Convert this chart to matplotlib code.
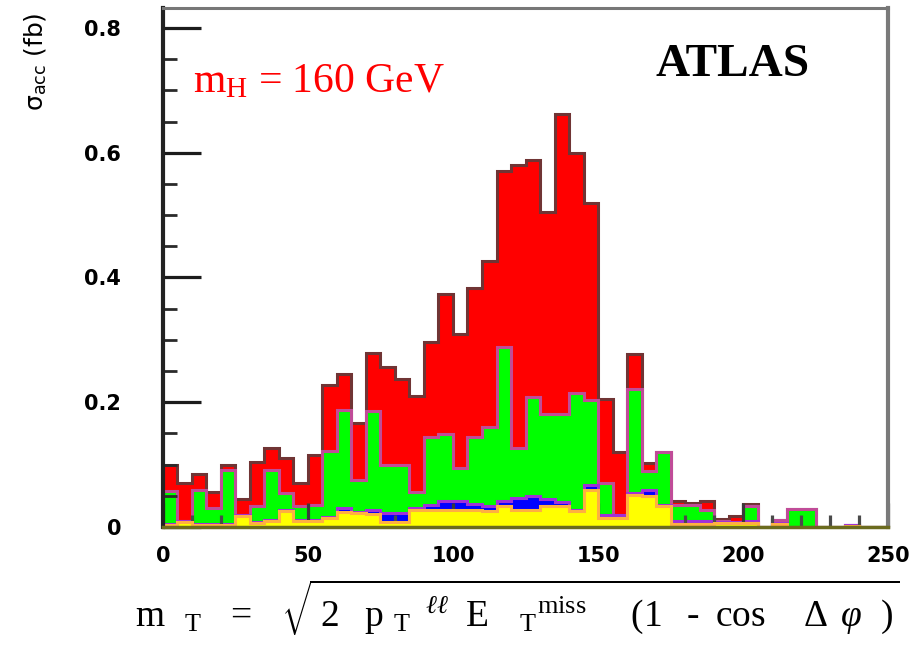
import numpy as np
import matplotlib

matplotlib.use("Agg")
import matplotlib.pyplot as plt
from matplotlib.font_manager import FontProperties
from matplotlib.ticker import MultipleLocator

plt.rcParams["mathtext.fontset"] = "custom"
plt.rcParams["mathtext.rm"] = "Liberation Serif"
plt.rcParams["mathtext.it"] = "Liberation Serif:italic"
plt.rcParams["mathtext.bf"] = "Liberation Serif:bold"

# 5 GeV bins from 0 to 250 GeV
bin_edges = np.arange(0, 255, 5)

# stacked levels (fb), top of each layer
top_total = [0.100, 0.070, 0.085, 0.056, 0.100, 0.045, 0.105, 0.126, 0.110, 0.071,
             0.115, 0.228, 0.246, 0.166, 0.279, 0.257, 0.238, 0.210, 0.297, 0.373,
             0.309, 0.383, 0.427, 0.570, 0.580, 0.588, 0.505, 0.662, 0.599, 0.519,
             0.206, 0.121, 0.277, 0.102, 0.121, 0.041, 0.038, 0.041, 0.013, 0.018,
             0.037, 0.000, 0.012, 0.029, 0.029, 0.000, 0.000, 0.004, 0.000, 0.000]
top_green = [0.058, 0.010, 0.060, 0.031, 0.091, 0.019, 0.033, 0.092, 0.054, 0.033,
             0.035, 0.122, 0.188, 0.075, 0.186, 0.099, 0.099, 0.056, 0.145, 0.149,
             0.094, 0.145, 0.161, 0.289, 0.126, 0.209, 0.181, 0.181, 0.215, 0.204,
             0.070, 0.019, 0.222, 0.089, 0.121, 0.036, 0.036, 0.027, 0.010, 0.008,
             0.033, 0.000, 0.012, 0.029, 0.029, 0.000, 0.000, 0.003, 0.000, 0.000]
top_blue = [0.005, 0.010, 0.005, 0.005, 0.005, 0.019, 0.008, 0.011, 0.028, 0.011,
            0.011, 0.016, 0.030, 0.024, 0.028, 0.022, 0.022, 0.030, 0.036, 0.041,
            0.041, 0.037, 0.033, 0.041, 0.046, 0.049, 0.045, 0.040, 0.028, 0.067,
            0.020, 0.019, 0.055, 0.059, 0.036, 0.010, 0.010, 0.009, 0.008, 0.008,
            0.010, 0.000, 0.007, 0.000, 0.000, 0.000, 0.000, 0.003, 0.000, 0.000]
top_yellow = [0.003, 0.008, 0.003, 0.003, 0.003, 0.017, 0.006, 0.009, 0.026, 0.009,
              0.009, 0.014, 0.024, 0.022, 0.021, 0.008, 0.008, 0.028, 0.028, 0.028,
              0.028, 0.028, 0.025, 0.033, 0.028, 0.028, 0.033, 0.033, 0.025, 0.059,
              0.014, 0.014, 0.051, 0.049, 0.033, 0.005, 0.005, 0.005, 0.006, 0.006,
              0.006, 0.000, 0.005, 0.000, 0.000, 0.000, 0.000, 0.002, 0.000, 0.000]

layers = [
    (top_total, "#ff0000", "#703434"),
    (top_green, "#00ff00", "#c04c98"),
    (top_blue, "#0000ff", "#a030d8"),
    (top_yellow, "#ffff00", "#ffb040"),
]

y_ticks = [0, 0.2, 0.4, 0.6, 0.8]
y_ticklabels = ["0", "0.2", "0.4", "0.6", "0.8"]
x_ticks = [0, 50, 100, 150, 200, 250]

fig = plt.figure(figsize=(9.14, 6.52), dpi=100)
ax = fig.add_axes([0.1783, 0.1917, 0.7933, 0.7960])

for i, (vals, face, edge) in enumerate(layers):
    z = 1.0 + 0.2 * i
    ax.stairs(vals, bin_edges, fill=True, color=face, zorder=z)
    ax.stairs(vals, bin_edges, fill=False, color=edge, lw=2.2, baseline=None, zorder=z + 0.1)

ax.set_xlim(0, 250)
ax.set_ylim(0, 0.832)

ax.set_yticks(y_ticks)
ax.set_yticklabels(y_ticklabels)
ax.yaxis.set_minor_locator(MultipleLocator(0.05))
ax.set_xticks(x_ticks)
ax.xaxis.set_minor_locator(MultipleLocator(10))

tick_fp = FontProperties(family="DejaVu Sans", weight="bold", size=15)
for lab in ax.get_xticklabels() + ax.get_yticklabels():
    lab.set_fontproperties(tick_fp)

ax.tick_params(axis="y", which="major", direction="in", length=27, width=2.3,
               color="#1c1c1c", pad=30)
ax.tick_params(axis="y", which="minor", direction="in", length=10, width=2.0,
               color="#2a2a2a")
ax.tick_params(axis="x", which="major", direction="in", length=17, width=2.3,
               color="#3a3a3a", pad=14)
ax.tick_params(axis="x", which="minor", direction="in", length=9, width=2.3,
               color="#4a4a4a")

ax.spines["left"].set_color("#222222")
ax.spines["left"].set_linewidth(3.0)
ax.spines["top"].set_color("#777777")
ax.spines["top"].set_linewidth(2.2)
ax.spines["right"].set_color("#7a7a7a")
ax.spines["right"].set_linewidth(3.0)
ax.spines["bottom"].set_color("#6b6b1e")
ax.spines["bottom"].set_linewidth(2.5)

fig.text(36 / 914, 1 - 62 / 652, r"σ$_{\mathregular{acc}}$ (fb)", rotation=90,
         ha="center", va="center", fontsize=18, family="DejaVu Sans")

fig.text(655 / 914, 1 - 76 / 652, "ATLAS", fontsize=34, fontweight="bold",
         family="Liberation Serif", ha="left", va="baseline")
fig.text(193 / 914, 1 - 92 / 652, r"$\mathrm{m_H}$ = 160 GeV", fontsize=30,
         color="#ff0000", family="Liberation Serif", ha="left", va="baseline")

formula = (r"$\mathrm{m}\hspace{0.75}{}_{\mathrm{T}}\hspace{0.85}=\hspace{0.9}"
           r"\sqrt{\hspace{0.2}2\hspace{0.95}\mathrm{p}\hspace{0.35}{}_{\mathrm{T}}\hspace{0.55}{}^{\ell\ell}"
           r"\hspace{0.65}\mathrm{E}\hspace{1.15}{}_{\mathrm{T}}{}^{\mathrm{miss}}\hspace{1.65}"
           r"\mathrm{(1}\hspace{0.9}\text{-}\hspace{0.6}\mathrm{cos}\hspace{1.4}\Delta\hspace{0.5}"
           r"\varphi\hspace{0.7}\mathrm{)}}$")
fig.text(135 / 914, 1 - 627 / 652, formula, fontsize=27, family="Liberation Serif",
         ha="left", va="baseline")

fig.savefig("out.png", dpi=100)
